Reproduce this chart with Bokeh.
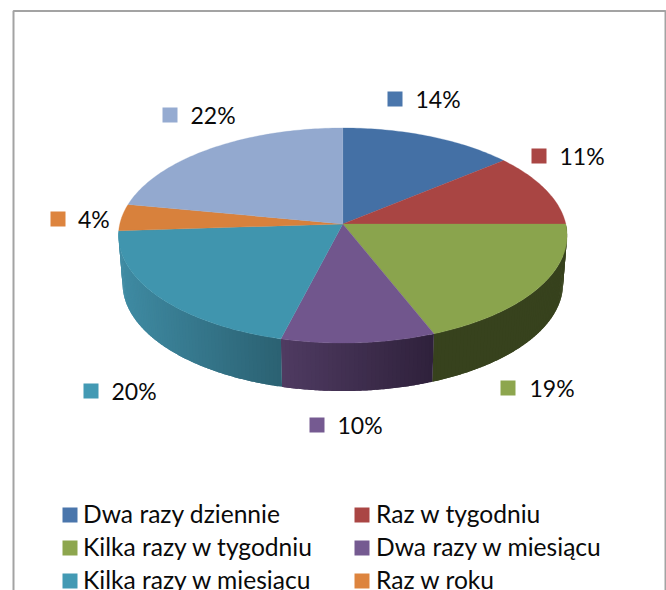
from math import sin, cos, pi
from bokeh.plotting import figure
from bokeh.models import Range1d, ColumnDataSource
from bokeh.core.properties import value
from bokeh.embed import file_html
from bokeh.resources import INLINE

# ---- data
categories = ["Dwa razy dziennie", "Raz w tygodniu", "Kilka razy w tygodniu",
              "Dwa razy w miesiącu", "Kilka razy w miesiącu", "Raz w roku", "Raz w miesiącu"]
shares = [14, 11, 19, 10, 20, 4, 22]

# ---- styles
top_colors = ["#4470A5", "#A94543", "#8AA44D", "#71568D", "#4095AE", "#D8813C", "#93A9CF"]
swatch_colors = ["#4A76AC", "#AA4644", "#8DA64E", "#755A91", "#439AB4", "#DD843E", "#95ABD1"]
side_left = {2: "#37421D", 3: "#4F3B62", 4: "#3F8BA3"}
side_right = {2: "#37421D", 3: "#2F213B", 4: "#2B6172"}

# ---- layout (page pixels)
CX, CY = 342.3, 223.5
RX, RY, K = 223.0, 106.3, 0.107
RX_BOTTOM, DEPTH = 219.0, 48.0
label_swatch_xy = [(387, 91), (531, 148), (500, 380), (309, 417), (83, 383), (50, 211), (162, 107)]
label_text_x = [415, 559, 529, 337, 111, 77.5, 190]
legend_swatch_xy = [(62, 507), (354, 507), (62, 540), (354, 540), (62, 573), (354, 573)]
legend_text_x = [82.5, 375.5, 82.5, 375.5, 82.5, 375.5]
SW = 15
FONT = value("Lato")
FS_LABEL = "23px"
FS_LEGEND = "24.6px"


def project(deg, rx=RX, dy=0.0):
    t = deg * pi / 180
    X, Y = sin(t), cos(t)
    d = 1 + K * Y
    return CX + rx * X / d, CY + dy - RY * Y / d


def hexmix(a, b, f):
    ca = [int(a[i:i + 2], 16) for i in (1, 3, 5)]
    cb = [int(b[i:i + 2], 16) for i in (1, 3, 5)]
    return "#%02x%02x%02x" % tuple(round(u + (v - u) * f) for u, v in zip(ca, cb))


p = figure(width=666, height=590, x_range=Range1d(0, 666), y_range=Range1d(590, 0),
           output_backend="svg", toolbar_location=None, min_border=0)
p.xaxis.visible = False
p.yaxis.visible = False
p.xgrid.visible = False
p.ygrid.visible = False
p.outline_line_color = None
p.background_fill_color = "white"
p.border_fill_color = "white"

# chart frame (runs off the bottom of the picture)
p.line([13, 13, 665, 665], [640, 10.5, 10.5, 640], line_color="#A3A3A3", line_width=2)

# slice boundaries
total = sum(shares)
edges = [0.0]
for s in shares:
    edges.append(edges[-1] + 360.0 * s / total)

# side wall: overlapping strips painted in order, shaded left to right
xs, ys, cs = [], [], []
for i in side_left:
    a0, a1 = edges[i], edges[i + 1]
    n = max(2, int(a1 - a0))
    xa, _ = project(a0)
    xb, _ = project(a1)
    lo, hi = min(xa, xb), max(xa, xb)
    step = (a1 - a0) / n
    for j in range(n):
        u0 = a0 + step * j
        u1 = min(a1, u0 + 2 * step)
        mids = [u0 + (u1 - u0) * m / 4 for m in range(5)]
        tops = [project(u) for u in mids]
        bots = [project(u, RX_BOTTOM, DEPTH) for u in mids]
        xs.append([q[0] for q in tops] + [q[0] for q in reversed(bots)])
        ys.append([q[1] for q in tops] + [q[1] for q in reversed(bots)])
        f = (project(u0 + step / 2)[0] - lo) / (hi - lo)
        cs.append(hexmix(side_left[i], side_right[i], f))
p.patches("x", "y", source=ColumnDataSource(dict(x=xs, y=ys, c=cs)),
          fill_color="c", line_color=None)

# top face
xs, ys = [], []
for i in range(len(shares)):
    a0, a1 = edges[i], edges[i + 1]
    n = max(4, int(a1 - a0))
    pts = [project(a0 + (a1 - a0) * j / n) for j in range(n + 1)]
    xs.append([CX] + [q[0] for q in pts])
    ys.append([CY] + [q[1] for q in pts])
p.patches("x", "y", source=ColumnDataSource(dict(x=xs, y=ys, c=top_colors)),
          fill_color="c", line_color="c", line_width=0.3)

# data labels
p.quad(left=[q[0] for q in label_swatch_xy], right=[q[0] + SW for q in label_swatch_xy],
       top=[q[1] for q in label_swatch_xy], bottom=[q[1] + SW for q in label_swatch_xy],
       fill_color=swatch_colors, line_color=None)
p.text(x=label_text_x, y=[q[1] + SW / 2 for q in label_swatch_xy],
       text=[f"{s}%" for s in shares], text_font=FONT, text_font_size=FS_LABEL,
       text_color="#0A0A0A", text_align="left", text_baseline="middle")

# legend (the seventh entry falls below the visible picture)
p.quad(left=[q[0] for q in legend_swatch_xy], right=[q[0] + SW for q in legend_swatch_xy],
       top=[q[1] for q in legend_swatch_xy], bottom=[q[1] + SW for q in legend_swatch_xy],
       fill_color=swatch_colors[:6], line_color=None)
p.text(x=legend_text_x, y=[q[1] + SW / 2 - 1.5 for q in legend_swatch_xy],
       text=categories[:6], text_font=FONT, text_font_size=FS_LEGEND,
       text_color="#0A0A0A", text_align="left", text_baseline="middle")

open("out.html", "w").write(file_html(p, INLINE))
